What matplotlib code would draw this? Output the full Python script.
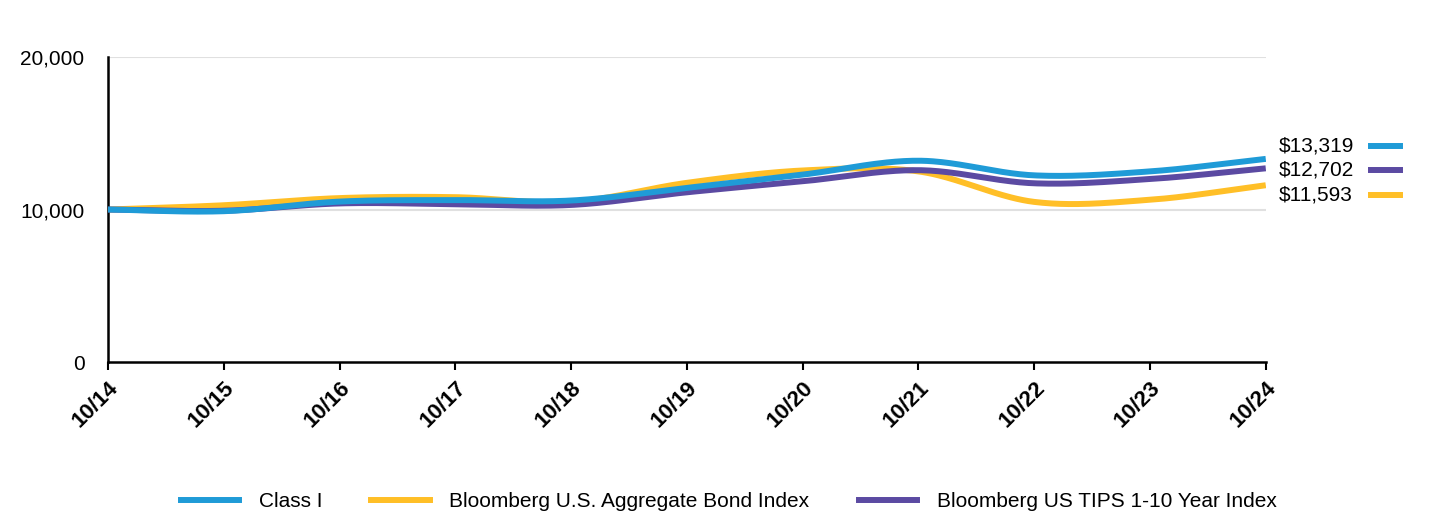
import numpy as np
import matplotlib
matplotlib.use("Agg")
import matplotlib.pyplot as plt
from matplotlib.lines import Line2D

plt.rcParams['font.family'] = ['Liberation Sans', 'DejaVu Sans']

# growth of $10,000, read at each October
years = ['10/14', '10/15', '10/16', '10/17', '10/18', '10/19',
         '10/20', '10/21', '10/22', '10/23', '10/24']
class_i = [10000, 9890, 10520, 10620, 10590, 11420, 12290, 13200, 12240, 12500, 13319]
agg_bond = [10000, 10280, 10750, 10810, 10500, 11750, 12560, 12500, 10500, 10640, 11593]
tips = [10000, 9920, 10400, 10350, 10300, 11130, 11850, 12580, 11720, 12000, 12702]

names = ['Class I', 'Bloomberg U.S. Aggregate Bond Index', 'Bloomberg US TIPS 1-10 Year Index']
colors = ['#1f9bd7', '#ffbf27', '#5b4aa2']
end_labels = ['$13,319', '$12,702', '$11,593']
end_colors = ['#1f9bd7', '#5b4aa2', '#ffbf27']


def smooth(y, n=40):
    # catmull-rom curve through the yearly points (drawing only)
    y = np.asarray(y, float)
    x = np.arange(len(y), dtype=float)
    m = np.gradient(y)
    xs, ys = [], []
    for i in range(len(y) - 1):
        t = np.linspace(0, 1, n, endpoint=False)
        h00 = 2*t**3 - 3*t**2 + 1
        h10 = t**3 - 2*t**2 + t
        h01 = -2*t**3 + 3*t**2
        h11 = t**3 - t**2
        ys.append(h00*y[i] + h10*m[i] + h01*y[i+1] + h11*m[i+1])
        xs.append(x[i] + t)
    xs.append([x[-1]])
    ys.append([y[-1]])
    return np.concatenate(xs), np.concatenate(ys)


fig = plt.figure(figsize=(14.4, 5.16), dpi=100)
ax = fig.add_axes([0.075, 0.2984, 0.804, 0.5911])

lw = 4.3
x = np.arange(len(years))
for vals, col, z in [(agg_bond, colors[1], 2), (tips, colors[2], 3), (class_i, colors[0], 4)]:
    sx, sy = smooth(vals)
    ax.plot(sx, sy, color=col, lw=lw, solid_capstyle='butt', zorder=z)

ax.set_xlim(0, len(years) - 1)
ax.set_ylim(0, 20000)
ax.set_yticks([0, 10000, 20000])
ax.set_yticklabels(['0', '10,000', '20,000'], fontsize=15)
for v in [10000, 20000]:
    ax.axhline(v, color='#e0e0e0', lw=1.5, zorder=1)

ax.set_xticks(x)
ax.set_xticklabels(years, rotation=45, ha='right', va='top', rotation_mode='anchor',
                   fontsize=16, fontweight='bold')
ax.tick_params(axis='x', length=6, width=1.5, pad=5)
ax.tick_params(axis='y', length=0, pad=17)
for s in ['top', 'right']:
    ax.spines[s].set_visible(False)
for s in ['left', 'bottom']:
    ax.spines[s].set_linewidth(1.8)

# end-of-period value labels
y0 = 0.717
for i, (lab, col) in enumerate(zip(end_labels, end_colors)):
    yy = y0 - i * 0.047
    fig.text(0.888, yy, lab, fontsize=15, va='center', ha='left')
    fig.add_artist(Line2D([0.952, 0.972], [yy, yy], color=col, lw=lw,
                          transform=fig.transFigure))

handles = [Line2D([], [], color=c, lw=lw) for c in colors]
fig.legend(handles, names, loc='center', bbox_to_anchor=(0.506, 0.028), ncol=3,
           frameon=False, fontsize=15, handlelength=2.8, handletextpad=0.95,
           columnspacing=2.35)

fig.savefig('out.png', dpi=100)
